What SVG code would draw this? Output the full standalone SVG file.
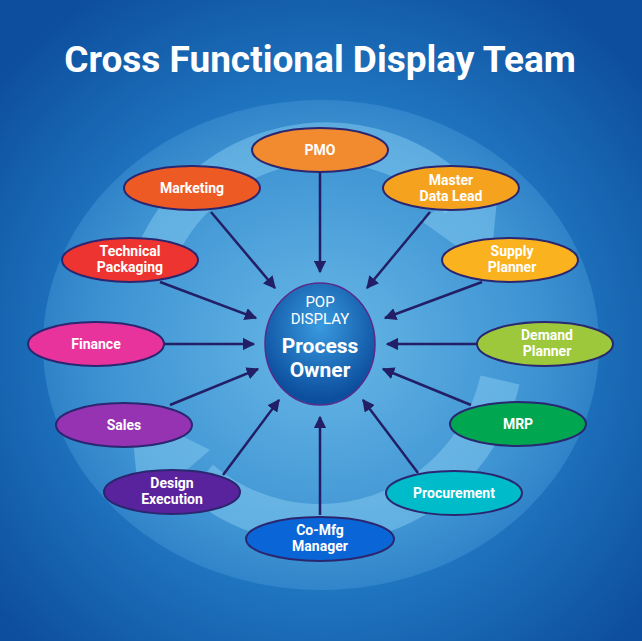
<svg xmlns="http://www.w3.org/2000/svg" width="642" height="641" viewBox="0 0 642 641">
<defs>
<radialGradient id="bg" cx="50%" cy="54%" r="65%"><stop offset="0" stop-color="#4aa2dc"/><stop offset="0.6" stop-color="#1f74bf"/><stop offset="1" stop-color="#0d4f9e"/></radialGradient>
<radialGradient id="disc" cx="50%" cy="50%" r="50%"><stop offset="0" stop-color="#7cc6ee"/><stop offset="0.8" stop-color="#4da3dc"/><stop offset="1" stop-color="#3d8fd0"/></radialGradient>
<radialGradient id="ctr" cx="50%" cy="35%" r="60%"><stop offset="0" stop-color="#3a9be0"/><stop offset="1" stop-color="#0c4f9f"/></radialGradient>
<marker id="ah" viewBox="0 0 10 10" refX="9" refY="5" markerWidth="5" markerHeight="5" orient="auto"><path d="M0,0 L10,5 L0,10 z" fill="#221f66"/></marker>
<style>
.n{stroke:#2a2670;stroke-width:2}
.t{font-family:Roboto,"Liberation Sans",sans-serif;font-weight:bold;font-size:14px;fill:#fff;text-anchor:middle}
.c line{stroke:#221f66;stroke-width:2.5;marker-end:url(#ah)}
</style>
</defs>
<rect width="642" height="641" fill="url(#bg)"/>
<ellipse cx="321" cy="345" rx="278" ry="245" fill="url(#disc)" opacity="0.6"/>
<g fill="none" stroke="#8fd3f5" stroke-width="40" opacity="0.45">
<path d="M150,270 A185,185 0 0 1 460,200"/>
<path d="M500,380 A185,185 0 0 1 200,480"/>
</g>
<g fill="#8fd3f5" opacity="0.45">
<path d="M420,220 L500,170 L490,270 z"/>
<path d="M210,450 L140,510 L130,410 z"/>
</g>
<text x="320" y="72" font-family="Roboto,'Liberation Sans',sans-serif" font-weight="bold" font-size="37" fill="#fff" text-anchor="middle">Cross Functional Display Team</text>
<g class="c">
<line x1="320" y1="173" x2="320" y2="272"/>
<line x1="211" y1="212" x2="275" y2="288"/>
<line x1="430" y1="212" x2="367" y2="288"/>
<line x1="160" y1="282" x2="256" y2="318"/>
<line x1="482" y1="282" x2="385" y2="318"/>
<line x1="164" y1="344" x2="254" y2="344"/>
<line x1="477" y1="344" x2="387" y2="344"/>
<line x1="170" y1="405" x2="258" y2="369"/>
<line x1="471" y1="405" x2="383" y2="369"/>
<line x1="223" y1="475" x2="279" y2="400"/>
<line x1="418" y1="473" x2="363" y2="400"/>
<line x1="320" y1="515" x2="320" y2="417"/>
</g>
<g id="center"><ellipse cx="320" cy="344" rx="55" ry="61" fill="url(#ctr)" stroke="#5a2a8a" stroke-width="1.5"/>
<text x="320" y="307" font-family="Roboto,sans-serif" font-size="15" fill="#fff" text-anchor="middle">POP</text>
<text x="320" y="324" font-family="Roboto,sans-serif" font-size="15" fill="#fff" text-anchor="middle">DISPLAY</text>
<text x="320" y="353" class="t" style="font-size:21px">Process</text>
<text x="320" y="377" class="t" style="font-size:21px">Owner</text></g>
<g id="pmo"><ellipse class="n" cx="320" cy="150" rx="68" ry="22" fill="#f28a30"/><text class="t" x="320" y="155">PMO</text></g>
<g id="marketing"><ellipse class="n" cx="192" cy="188" rx="68" ry="22" fill="#ee5a24"/><text class="t" x="192" y="193">Marketing</text></g>
<g id="master"><ellipse class="n" cx="451" cy="188" rx="68" ry="22" fill="#f5a31f"/><text class="t" x="451" y="185">Master</text><text class="t" x="451" y="201">Data Lead</text></g>
<g id="tech"><ellipse class="n" cx="130" cy="260" rx="68" ry="22" fill="#ee3430"/><text class="t" x="130" y="256">Technical</text><text class="t" x="130" y="272">Packaging</text></g>
<g id="supply"><ellipse class="n" cx="510" cy="260" rx="68" ry="22" fill="#fbb21f"/><text class="t" x="512" y="256">Supply</text><text class="t" x="512" y="272">Planner</text></g>
<g id="finance"><ellipse class="n" cx="96" cy="344" rx="68" ry="22" fill="#e8339c"/><text class="t" x="96" y="349">Finance</text></g>
<g id="demand"><ellipse class="n" cx="545" cy="344" rx="68" ry="22" fill="#9dc83b"/><text class="t" x="547" y="340">Demand</text><text class="t" x="547" y="356">Planner</text></g>
<g id="sales"><ellipse class="n" cx="124" cy="425" rx="68" ry="22" fill="#9533b3"/><text class="t" x="124" y="430">Sales</text></g>
<g id="mrp"><ellipse class="n" cx="518" cy="424" rx="68" ry="22" fill="#00a650"/><text class="t" x="518" y="429">MRP</text></g>
<g id="design"><ellipse class="n" cx="172" cy="492" rx="68" ry="22" fill="#5a239e"/><text class="t" x="172" y="488">Design</text><text class="t" x="172" y="504">Execution</text></g>
<g id="procurement"><ellipse class="n" cx="454" cy="493" rx="68" ry="22" fill="#00bccb"/><text class="t" x="454" y="498">Procurement</text></g>
<g id="comfg"><ellipse class="n" cx="320" cy="539" rx="74" ry="22" fill="#0a66d6"/><text class="t" x="320" y="535">Co-Mfg</text><text class="t" x="320" y="551">Manager</text></g>
</svg>
